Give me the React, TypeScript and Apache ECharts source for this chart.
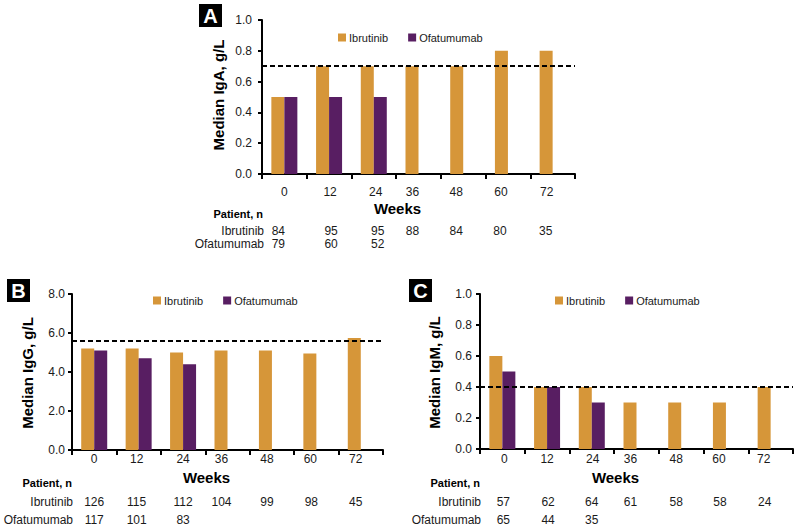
import React, { useEffect, useRef } from "react";
import * as echarts from "echarts";

// ---- data ----
const weeks = ["0", "12", "24", "36", "48", "60", "72"];

const igaIbrutinib = [0.5, 0.7, 0.7, 0.7, 0.7, 0.8, 0.8];
const igaOfatumumab = [0.5, 0.5, 0.5, null, null, null, null];
const igaReference = 0.7;
const igaPatientsIbrutinib = ["84", "95", "95", "88", "84", "80", "35"];
const igaPatientsOfatumumab = ["79", "60", "52", "", "", "", ""];

const iggIbrutinib = [5.2, 5.2, 5.0, 5.1, 5.1, 4.95, 5.75];
const iggOfatumumab = [5.1, 4.7, 4.4, null, null, null, null];
const iggReference = 5.6;
const iggPatientsIbrutinib = ["126", "115", "112", "104", "99", "98", "45"];
const iggPatientsOfatumumab = ["117", "101", "83", "", "", "", ""];

const igmIbrutinib = [0.6, 0.4, 0.4, 0.3, 0.3, 0.3, 0.4];
const igmOfatumumab = [0.5, 0.4, 0.3, null, null, null, null];
const igmReference = 0.4;
const igmPatientsIbrutinib = ["57", "62", "64", "61", "58", "58", "24"];
const igmPatientsOfatumumab = ["65", "44", "35", "", "", "", ""];

const seriesNames = ["Ibrutinib", "Ofatumumab"];

// ---- styling ----
const FONT = '"Liberation Sans", Arial, sans-serif';
const ORANGE = "#D69639";
const PURPLE = "#581E62";
const TEXT = "#1a1a1a";

const panels = [
  {
    letter: "A", title: "Median IgA, g/L",
    ibr: igaIbrutinib, ofa: igaOfatumumab, ref: igaReference,
    nIbr: igaPatientsIbrutinib, nOfa: igaPatientsOfatumumab,
    max: 1, interval: 0.2,
    grid: { left: 262, top: 20, width: 313, height: 154 },
    xLabelMargin: 11, yLabelMargin: 10,
    labelShift: [0, 1, 2, -6, -7, -7, -6],
    countShift: [-6, 2, 4, -6, -7, -8, -7],
    rowY: [231, 244], patientY: 214, weeksY: 208, rowRight: 264,
    legend: { left: 338, top: 32 },
    box: { x: 199, y: 4 }, titleX: 218,
  },
  {
    letter: "B", title: "Median IgG, g/L",
    ibr: iggIbrutinib, ofa: iggOfatumumab, ref: iggReference,
    nIbr: iggPatientsIbrutinib, nOfa: iggPatientsOfatumumab,
    max: 8, interval: 2,
    grid: { left: 72, top: 294, width: 311, height: 156 },
    xLabelMargin: 2, yLabelMargin: 7,
    labelShift: [0, -2, 0, -6, -5, -6, -5],
    countShift: [0, -2, 0, -6, -5, -5, -5],
    rowY: [502, 520], patientY: 483, weeksY: 477, rowRight: 73,
    legend: { left: 153, top: 295 },
    box: { x: 7, y: 279 }, titleX: 27,
  },
  {
    letter: "C", title: "Median IgM, g/L",
    ibr: igmIbrutinib, ofa: igmOfatumumab, ref: igmReference,
    nIbr: igmPatientsIbrutinib, nOfa: igmPatientsOfatumumab,
    max: 1, interval: 0.2,
    grid: { left: 480, top: 294, width: 313, height: 155 },
    xLabelMargin: 3, yLabelMargin: 8,
    labelShift: [2, 0, 1, -6, -5, -7, -7],
    countShift: [1, 1, 0, -6, -5, -6, -6],
    rowY: [502, 520], patientY: 483, weeksY: 477, rowRight: 481,
    legend: { left: 555, top: 295 },
    box: { x: 409, y: 279 }, titleX: 434,
  },
];

function shiftedLabel(shifts: number[], fontSize: number) {
  const rich: Record<string, any> = {};
  shifts.forEach((s, i) => {
    rich["s" + i] = {
      fontSize, fontFamily: FONT, color: TEXT, lineHeight: 14,
      padding: s < 0 ? [0, -2 * s, 0, 0] : [0, 0, 0, 2 * s],
    };
  });
  return {
    interval: 0,
    formatter: (v: string, i: number) => (v === "" ? "" : `{s${i}|${v}}`),
    rich,
  };
}

function buildOption() {
  const grid: any[] = [];
  const xAxis: any[] = [];
  const yAxis: any[] = [];
  const series: any[] = [];
  const legend: any[] = [];
  const graphic: any[] = [];

  panels.forEach((p, pi) => {
    grid.push({ ...p.grid, containLabel: false });
    const bottom = p.grid.top + p.grid.height;
    const cx = p.grid.left + p.grid.width / 2;

    xAxis.push({
      type: "category", gridIndex: pi, data: weeks,
      axisLine: { show: true, lineStyle: { color: "#000", width: 2 } },
      axisTick: { show: true, interval: 0, length: 5, lineStyle: { color: "#000", width: 2 } },
      axisLabel: { margin: p.xLabelMargin, ...shiftedLabel(p.labelShift, 12) },
      splitLine: { show: false },
    });
    [p.nIbr, p.nOfa].forEach((counts, ri) => {
      xAxis.push({
        type: "category", gridIndex: pi, data: counts, position: "bottom",
        offset: p.rowY[ri] - bottom - 7,
        axisLine: { show: false }, axisTick: { show: false },
        axisLabel: { margin: 0, ...shiftedLabel(p.countShift, 12) },
        splitLine: { show: false },
      });
    });

    yAxis.push({
      type: "value", gridIndex: pi, min: 0, max: p.max, interval: p.interval,
      axisLine: { show: true, lineStyle: { color: "#000", width: 2 } },
      axisTick: { show: true, length: 4, lineStyle: { color: "#000", width: 2 } },
      axisLabel: {
        margin: p.yLabelMargin, fontSize: 12, fontFamily: FONT, color: TEXT,
        formatter: (v: number) => v.toFixed(1),
      },
      splitLine: { show: false },
    });

    series.push({
      type: "bar", name: seriesNames[0], xAxisIndex: pi * 3, yAxisIndex: pi,
      data: p.ibr, barWidth: 13, barGap: "0%",
      itemStyle: { color: ORANGE },
      markLine: {
        silent: true, symbol: ["none", "none"], label: { show: false },
        lineStyle: { color: "#000", type: [5, 3], width: 2 },
        data: [{ yAxis: p.ref }],
      },
    });
    series.push({
      type: "bar", name: seriesNames[1], xAxisIndex: pi * 3, yAxisIndex: pi,
      data: p.ofa, barWidth: 13, barGap: "0%",
      itemStyle: { color: PURPLE },
    });

    legend.push({
      data: seriesNames, left: p.legend.left, top: p.legend.top, padding: 0,
      itemWidth: 8, itemHeight: 8, itemGap: 20, icon: "rect",
      textStyle: { fontSize: 11, fontFamily: FONT, color: TEXT, padding: [0, 0, 0, -2] },
      selectedMode: false,
    });

    // panel letter
    graphic.push({
      type: "rect", shape: { x: p.box.x, y: p.box.y, width: 23, height: 23 },
      style: { fill: "#000" },
    });
    graphic.push({
      type: "text", x: p.box.x + 11.5, y: p.box.y + 12,
      style: {
        text: p.letter, fill: "#fff", fontSize: 20, fontWeight: "bold", fontFamily: FONT,
        textAlign: "center", textVerticalAlign: "middle", align: "center", verticalAlign: "middle",
      },
    });
    // y title
    graphic.push({
      type: "text", x: p.titleX, y: p.grid.top + p.grid.height / 2 - (pi === 0 ? 2 : -1),
      rotation: Math.PI / 2,
      style: {
        text: p.title, fill: "#000", fontSize: 15, fontWeight: "bold", fontFamily: FONT,
        textAlign: "center", textVerticalAlign: "middle", align: "center", verticalAlign: "middle",
      },
    });
    // Weeks
    graphic.push({
      type: "text", x: cx - 21, y: p.weeksY,
      style: {
        text: "Weeks", fill: "#000", fontSize: 15, fontWeight: "bold", fontFamily: FONT,
        textAlign: "center", textVerticalAlign: "middle", align: "center", verticalAlign: "middle",
      },
    });
    // Patient, n
    graphic.push({
      type: "text", x: p.rowRight - 1, y: p.patientY,
      style: {
        text: "Patient, n", fill: "#000", fontSize: 11, fontWeight: "bold", fontFamily: FONT,
        textAlign: "right", textVerticalAlign: "middle", align: "right", verticalAlign: "middle",
      },
    });
    seriesNames.forEach((nm, ri) => {
      graphic.push({
        type: "text", x: p.rowRight, y: p.rowY[ri],
        style: {
          text: nm, fill: TEXT, fontSize: 12, fontFamily: FONT,
          textAlign: "right", textVerticalAlign: "middle", align: "right", verticalAlign: "middle",
        },
      });
    });
  });

  return {
    animation: false,
    backgroundColor: "#fff",
    textStyle: { fontFamily: FONT },
    grid, xAxis, yAxis, series, legend, graphic,
  };
}

export default function App() {
  const ref = useRef<HTMLDivElement>(null);
  useEffect(() => {
    document.body.style.margin = "0";
    const chart = echarts.init(ref.current!, undefined, { renderer: "svg" });
    chart.setOption(buildOption() as any);
    return () => chart.dispose();
  }, []);
  return <div ref={ref} style={{ width: 800, height: 532, position: "absolute", left: 0, top: 0 }} />;
}
